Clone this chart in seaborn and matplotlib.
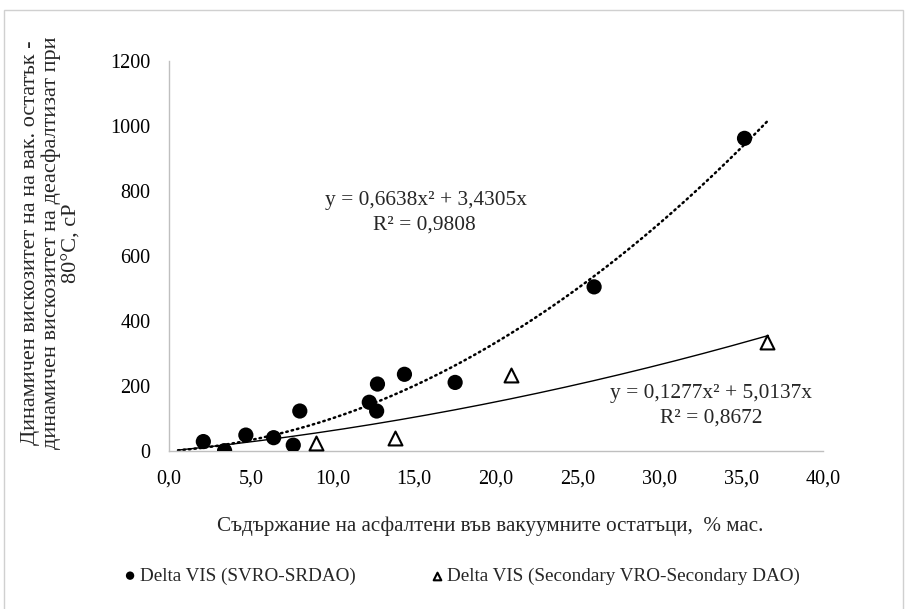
import numpy as np
import pandas as pd
import matplotlib
matplotlib.use("Agg")
import matplotlib.pyplot as plt
import seaborn as sns
from matplotlib.patches import Rectangle
from matplotlib.ticker import FuncFormatter, MultipleLocator

# Asphaltene content (% mass) vs. viscosity difference (cP)
svro_x = [2.1, 3.4, 4.7, 6.4, 7.6, 8.0, 12.25, 12.7, 12.75, 14.4, 17.5, 26.0, 35.2]
svro_y = [29, 1, 49, 41, 18, 123, 150, 123, 206, 236, 211, 505, 962]
sec_x = [9.0, 13.8, 20.9, 36.6]
sec_y = [24, 41, 234, 336]

# Polynomial trendlines y = a*x^2 + b*x
fit_svro = [0.6638, 3.4305]
fit_sec = [0.1277, 5.0137]
fit_range = [0.55, 36.66]

label_svro = "Delta VIS (SVRO-SRDAO)"
label_sec = "Delta VIS (Secondary VRO-Secondary DAO)"
eq_svro = ["y = 0,6638x² + 3,4305x", "R² = 0,9808"]
eq_sec = ["y = 0,1277x² + 5,0137x", "R² = 0,8672"]
x_title = "Съдържание на асфалтени във вакуумните остатъци,  % мас."
y_title = ("Динамичен вискозитет на на вак. остатък -\n"
           "динамичен вискозитет на деасфалтизат при\n"
           "80°C, cP")

sns.set_style("white")
plt.rcParams["font.family"] = ["Liberation Serif", "DejaVu Serif"]

W, H = 905, 609
fig = plt.figure(figsize=(W / 100, H / 100), dpi=100)
ax = fig.add_axes([169 / W, 1 - 451 / H, (823 - 169) / W, (451 - 61) / H])

xs = np.linspace(fit_range[0], fit_range[1], 300)
trend = pd.DataFrame({
    "x": np.concatenate([xs, xs]),
    "y": np.concatenate([fit_svro[0] * xs**2 + fit_svro[1] * xs,
                         fit_sec[0] * xs**2 + fit_sec[1] * xs]),
    "series": ["svro"] * len(xs) + ["sec"] * len(xs),
})
sns.lineplot(data=trend[trend.series == "svro"], x="x", y="y", ax=ax,
             color="black", linewidth=1.8, linestyle=(0, (0.6, 1.6)),
             dash_capstyle="round", legend=False)
sns.lineplot(data=trend[trend.series == "sec"], x="x", y="y", ax=ax,
             color="black", linewidth=1.0, legend=False)

sns.scatterplot(x=svro_x, y=svro_y, ax=ax, s=120, color="black",
                edgecolor="none", label=label_svro, zorder=3)
sns.scatterplot(x=sec_x, y=sec_y, ax=ax, s=100, marker="^", color="white",
                edgecolor="black", linewidth=1.5, label=label_sec, zorder=3)

ax.set_xlim(0, 40)
ax.set_ylim(0, 1200)
ax.xaxis.set_major_locator(MultipleLocator(5))
ax.yaxis.set_major_locator(MultipleLocator(200))
ax.xaxis.set_major_formatter(FuncFormatter(lambda v, p: f"{v:.1f}".replace(".", ",")))
ax.yaxis.set_major_formatter(FuncFormatter(lambda v, p: f"{v:.0f}"))

for side in ["top", "right"]:
    ax.spines[side].set_visible(False)
for side in ["left", "bottom"]:
    ax.spines[side].set_color("#bfbfbf")
    ax.spines[side].set_linewidth(1.0)
ax.tick_params(axis="both", direction="out", length=4.3, width=1,
               color="#bfbfbf", labelsize=14.5, labelcolor="black", pad=9)
ax.grid(False)
ax.set_xlabel("")
ax.set_ylabel("")

# Axis titles
fig.text(490 / W, 1 - 526 / H, x_title, ha="center", va="center", fontsize=15.2)
fig.text(51 / W, 1 - 243 / H, y_title, ha="center", va="center",
         rotation=90, fontsize=16.0, linespacing=1.12, multialignment="center")

# Trendline equations
eq_font = 15.4
ax.text(15.72, 772, eq_svro[0], ha="center", va="center", fontsize=eq_font)
ax.text(15.6, 695, eq_svro[1], ha="center", va="center", fontsize=eq_font)
ax.text(33.18, 178, eq_sec[0], ha="center", va="center", fontsize=eq_font)
ax.text(33.15, 101, eq_sec[1], ha="center", va="center", fontsize=eq_font)

leg = ax.legend(loc="center", bbox_to_anchor=(460 / W, 1 - 576 / H),
                bbox_transform=fig.transFigure, ncol=2, frameon=False,
                fontsize=13.8, markerscale=0.55, handletextpad=0.0,
                columnspacing=3.76, handlelength=1.0, borderpad=0)

fig.patches.append(Rectangle((4 / W, -0.05), (903 - 4) / W, 1.05 - 10 / H,
                             transform=fig.transFigure, fill=False,
                             edgecolor="#d0d0d0", linewidth=1.0))

fig.savefig("out.png", dpi=100)
